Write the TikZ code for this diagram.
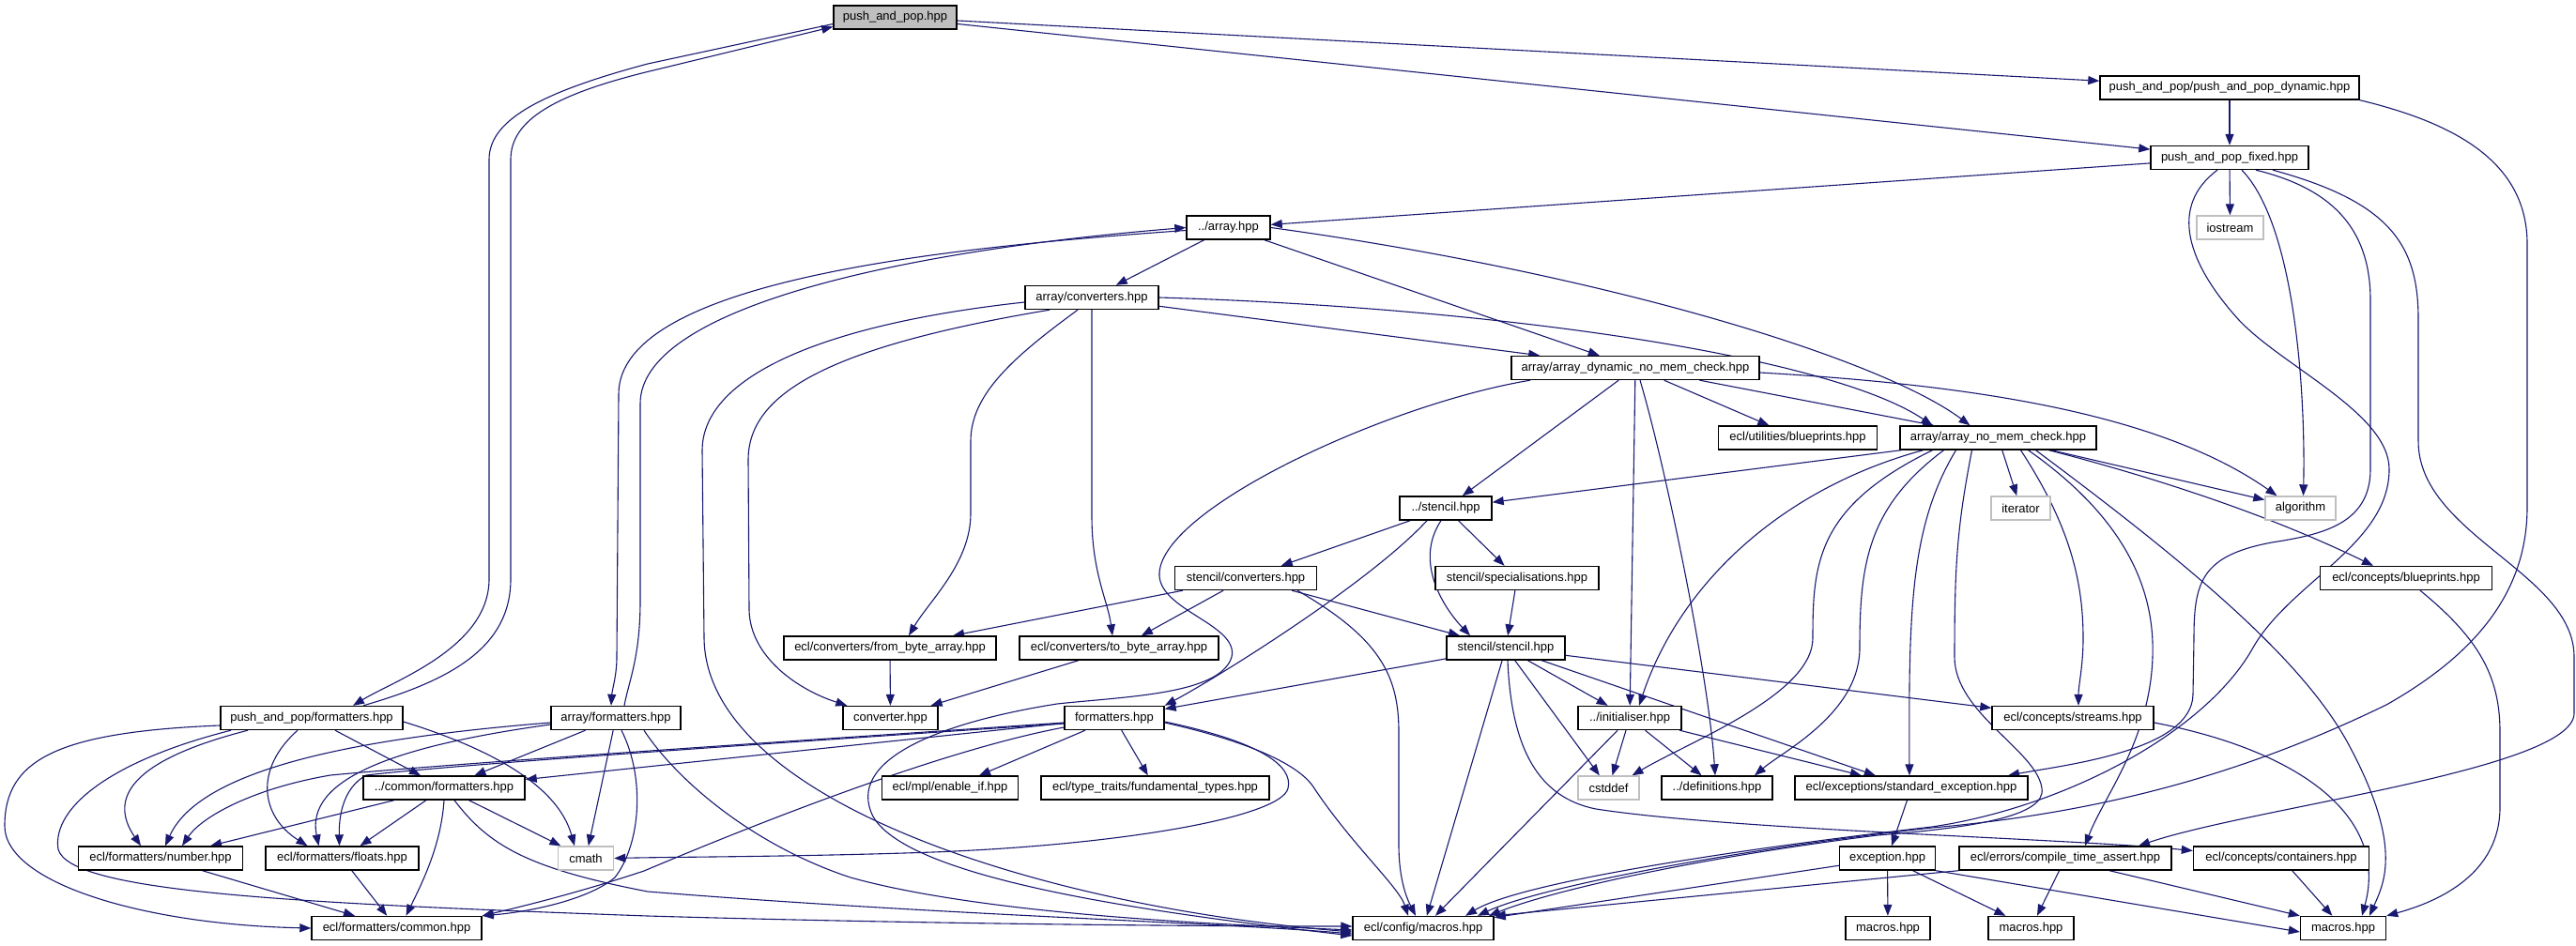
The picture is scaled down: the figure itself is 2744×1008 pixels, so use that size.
\documentclass[tikz,border=0pt]{standalone}
\usepackage{fontspec}
\setmainfont{Liberation Sans}
\usetikzlibrary{arrows.meta}
\definecolor{edgec}{HTML}{191970}
\definecolor{boxgray}{HTML}{BFBFBF}
\pgfdeclarelayer{bg}
\pgfsetlayers{bg,main}
\begin{document}
\begin{tikzpicture}[x=1pt,y=-1pt,
  box/.style={draw=black, line width=1.4pt, fill=white, rectangle, minimum height=25pt, inner sep=0pt, font=\fontsize{13}{15}\selectfont},
  sys/.style={box, draw=boxgray},
  rootbox/.style={box, fill=boxgray},
  e/.style={draw=edgec, line width=1.1pt, -{Triangle[length=12pt,width=9pt]}}]
\useasboundingbox (0,0) rectangle (2744,1008);
% nodes
\node[rootbox, minimum width=131] (root) at (953.5,18.5) {push\_and\_pop.hpp};
\node[box, minimum width=276] (dyn) at (2375,93.5) {push\_and\_pop/push\_and\_pop\_dynamic.hpp};
\node[box, minimum width=168] (fixed) at (2375,168) {push\_and\_pop\_fixed.hpp};
\node[box, minimum width=89] (array) at (1308.5,242.5) {../array.hpp};
\node[sys, minimum width=71] (iostream) at (2375.5,242.5) {iostream};
\node[box, minimum width=142] (conv) at (1163,317) {array/converters.hpp};
\node[box, minimum width=264] (adyn) at (1742,392) {array/array\_dynamic\_no\_mem\_check.hpp};
\node[box, minimum width=169] (ublue) at (1915,466.5) {ecl/utilities/blueprints.hpp};
\node[box, minimum width=209] (anomem) at (2128.5,466.5) {array/array\_no\_mem\_check.hpp};
\node[box, minimum width=98] (stencil) at (1540,541.5) {../stencil.hpp};
\node[sys, minimum width=63] (iterator) at (2152.5,541.5) {iterator};
\node[sys, minimum width=75] (algorithm) at (2450.5,541.5) {algorithm};
\node[box, minimum width=151] (sconv) at (1327,616) {stencil/converters.hpp};
\node[box, minimum width=174] (sspec) at (1616,616) {stencil/specialisations.hpp};
\node[box, minimum width=183] (cblue) at (2563,616) {ecl/concepts/blueprints.hpp};
\node[box, minimum width=226] (fromb) at (948,690.5) {ecl/converters/from\_byte\_array.hpp};
\node[box, minimum width=212] (tob) at (1192,690.5) {ecl/converters/to\_byte\_array.hpp};
\node[box, minimum width=126] (sstencil) at (1604,690.5) {stencil/stencil.hpp};
\node[box, minimum width=194] (ppfmt) at (332,765) {push\_and\_pop/formatters.hpp};
\node[box, minimum width=138] (afmt) at (656,765) {array/formatters.hpp};
\node[box, minimum width=101] (converter) at (948.5,765) {converter.hpp};
\node[box, minimum width=106] (fmt) at (1187,765) {formatters.hpp};
\node[box, minimum width=110] (init) at (1736,765) {../initialiser.hpp};
\node[box, minimum width=172] (streams) at (2208,765) {ecl/concepts/streams.hpp};
\node[box, minimum width=172] (cfmt) at (473,839.5) {../common/formatters.hpp};
\node[box, minimum width=145] (enableif) at (1012,839.5) {ecl/mpl/enable\_if.hpp};
\node[box, minimum width=243] (fund) at (1230.5,839.5) {ecl/type\_traits/fundamental\_types.hpp};
\node[sys, minimum width=65] (cstddef) at (1713.5,839.5) {cstddef};
\node[box, minimum width=118] (defs) at (1829,839.5) {../definitions.hpp};
\node[box, minimum width=248] (stdexc) at (2036,839.5) {ecl/exceptions/standard\_exception.hpp};
\node[box, minimum width=175] (number) at (171,914.5) {ecl/formatters/number.hpp};
\node[box, minimum width=163] (floats) at (364.5,914.5) {ecl/formatters/floats.hpp};
\node[sys, minimum width=59] (cmath) at (624,914.5) {cmath};
\node[box, minimum width=102] (exc) at (2010.5,914.5) {exception.hpp};
\node[box, minimum width=226] (cta) at (2200,914.5) {ecl/errors/compile\_time\_assert.hpp};
\node[box, minimum width=187] (cont) at (2430,914.5) {ecl/concepts/containers.hpp};
\node[box, minimum width=181] (common) at (422.5,989) {ecl/formatters/common.hpp};
\node[box, minimum width=150] (cmacros) at (1516,989) {ecl/config/macros.hpp};
\node[box, minimum width=90] (m1) at (2011,989) {macros.hpp};
\node[box, minimum width=91] (m2) at (2163.5,989) {macros.hpp};
\node[box, minimum width=91] (m3) at (2496,989) {macros.hpp};
\begin{pgfonlayer}{bg}
\fill[white] (0,0) rectangle (2744,1008);
% root
\draw[e] (root) -- (dyn);
\draw[e] (root) -- (fixed);
\draw[e] ([yshift=-7pt]root.west) -- (690,68) .. controls (570,100) and (521,130) .. (521,170) -- (521,617) .. controls (521,690) and (420,725) .. ([xshift=44pt]ppfmt.north);
\draw[e] ([xshift=55pt]ppfmt.north) .. controls (480,725) and (544,690) .. (544,617) -- (544,170) .. controls (544,128) and (590,100) .. (700,74) -- ([yshift=-10pt]root.west);
% dyn
\draw[e] (dyn) -- (fixed);
\draw[e] (dyn.south east) .. controls (2610,130) and (2692,170) .. (2692,260) -- (2692,540) .. controls (2692,620) and (2650,690) .. (2542,751) .. controls (2400,820) and (2250,865) .. (2058,882) .. controls (1850,905) and (1640,945) .. ([xshift=58pt]cmacros.north);
% fixed
\draw[e] (fixed) -- (array);
\draw[e] (fixed) -- (iostream);
\draw[e] ([xshift=13pt]fixed.south) .. controls (2445,240) and (2456,420) .. ([xshift=3pt]algorithm.north);
\draw[e] ([xshift=28pt]fixed.south) .. controls (2480,200) and (2525,240) .. (2525,320) -- (2525,500) .. controls (2525,560) and (2470,570) .. (2420,578) .. controls (2345,592) and (2337,620) .. (2337,680) -- (2336,740) .. controls (2335,800) and (2200,815) .. ([xshift=103pt]stdexc.north);
\draw[e] ([xshift=46pt]fixed.south) .. controls (2545,215) and (2576,260) .. (2576,340) -- (2576,470) .. controls (2576,570) and (2742,610) .. (2742,700) -- (2742,760) .. controls (2742,820) and (2400,860) .. ([xshift=78pt]cta.north);
\draw[e] ([xshift=-13pt]fixed.south) .. controls (2310,220) and (2330,280) .. (2384,340) .. controls (2430,390) and (2545,440) .. (2545,500) .. controls (2545,580) and (2440,620) .. (2400,690) .. controls (2350,780) and (2200,860) .. (2058,881) .. controls (1850,905) and (1620,940) .. ([xshift=45pt]cmacros.north);
% array
\draw[e] (array) -- (conv);
\draw[e] (array) -- (adyn);
\draw[e] (array.east) .. controls (1700,290) and (2000,380) .. ([xshift=-30pt]anomem.north);
\draw[e] ([yshift=-3pt]array.west) .. controls (1000,264) and (659,300) .. (659,420) -- (657,700) .. controls (657,720) and (652,735) .. ([xshift=-5pt]afmt.north);
\draw[e] ([xshift=9pt]afmt.north) .. controls (670,725) and (682,700) .. (682,640) -- (682,430) .. controls (682,330) and (950,268) .. (array.west);
% conv
\draw[e] (conv) -- (adyn);
\draw[e] (conv.east) .. controls (1600,328) and (1950,380) .. ([xshift=-70pt]anomem.north);
\draw[e] ([yshift=-5pt]conv.west) .. controls (880,345) and (748,400) .. (748,480) -- (750,680) .. controls (752,850) and (1100,965) .. ([yshift=-4pt]cmacros.west);
\draw[e] ([xshift=-45pt]conv.south) .. controls (880,370) and (797,420) .. (797,490) -- (798,650) .. controls (799,700) and (850,735) .. ([xshift=5pt]converter.north west);
\draw[e] ([xshift=-15pt]conv.south) .. controls (1080,380) and (1034,420) .. (1034,470) -- (1034,547) .. controls (1034,600) and (990,640) .. ([xshift=20pt]fromb.north);
\draw[e] (conv.south) -- (1163,550) .. controls (1163,610) and (1180,640) .. ([xshift=-7pt]tob.north);
% adyn
\draw[e] ([yshift=-5pt]adyn.east) .. controls (2100,410) and (2300,440) .. ([xshift=-25pt]algorithm.north);
\draw[e] ([xshift=-112pt]adyn.south) .. controls (1480,430) and (1240,540) .. (1235,610) .. controls (1232,650) and (1320,665) .. (1312,700) .. controls (1300,740) and (1200,742) .. (1126,750) .. controls (1000,770) and (900,810) .. (930,870) .. controls (970,940) and (1250,975) .. ([yshift=-8pt]cmacros.west);
\draw[e] (adyn) -- (stencil);
\draw[e] (adyn) -- (init);
\draw[e] ([xshift=5pt]adyn.south) .. controls (1775,500) and (1820,720) .. ([xshift=-2pt]defs.north);
\draw[e] (adyn) -- (ublue);
\draw[e] (adyn) -- (anomem);
% anomem
\draw[e] (anomem) -- (stencil);
\draw[e] ([xshift=-80pt]anomem.south) .. controls (1900,520) and (1790,620) .. ([xshift=10pt]init.north);
\draw[e] ([xshift=-70pt]anomem.south) .. controls (1935,540) and (1931,600) .. (1931,680) .. controls (1931,740) and (1800,790) .. ([xshift=25pt]cstddef.north);
\draw[e] ([xshift=-58pt]anomem.south) .. controls (1990,540) and (1981,600) .. (1981,690) .. controls (1981,760) and (1900,800) .. ([xshift=40pt]defs.north);
\draw[e] ([xshift=-45pt]anomem.south) .. controls (2035,560) and (2033,650) .. ([xshift=-2pt]stdexc.north);
\draw[e] ([xshift=-28pt]anomem.south) .. controls (2085,560) and (2082,600) .. (2082,700) .. controls (2082,760) and (2170,800) .. (2175,840) .. controls (2180,870) and (2100,882) .. (2000,890) .. controls (1800,915) and (1650,950) .. ([xshift=70pt]cmacros.north);
\draw[e] (anomem) -- (iterator);
\draw[e] ([xshift=24pt]anomem.south) .. controls (2205,560) and (2219,620) .. (2219,680) .. controls (2219,710) and (2214,730) .. ([xshift=6pt]streams.north);
\draw[e] ([xshift=32pt]anomem.south) .. controls (2275,560) and (2295,640) .. (2293,700) .. controls (2290,790) and (2240,850) .. ([xshift=21pt]cta.north);
\draw[e] ([xshift=40pt]anomem.south) .. controls (2330,600) and (2450,700) .. (2500,790) .. controls (2560,900) and (2540,940) .. ([xshift=28pt]m3.north);
\draw[e] (anomem) -- (algorithm);
\draw[e] ([xshift=54pt]anomem.south) .. controls (2300,510) and (2420,550) .. ([xshift=-35pt]cblue.north);
% stencil
\draw[e] (stencil) -- (sconv);
\draw[e] ([xshift=-20pt]stencil.south) .. controls (1460,620) and (1300,720) .. (fmt.north east);
\draw[e] ([xshift=-5pt]stencil.south) .. controls (1505,600) and (1540,650) .. ([xshift=-38pt]sstencil.north);
\draw[e] (stencil) -- (sspec);
\draw[e] (sspec) -- (sstencil);
% sconv
\draw[e] (sconv) -- (fromb);
\draw[e] (sconv) -- (tob);
\draw[e] (sconv) -- (sstencil);
\draw[e] ([xshift=55pt]sconv.south) .. controls (1470,680) and (1490,720) .. (1490,780) -- (1490,900) .. controls (1490,940) and (1500,960) .. ([xshift=-8pt]cmacros.north);
% sstencil
\draw[e] (sstencil) -- (fmt);
\draw[e] (sstencil) -- (cmacros);
\draw[e] ([xshift=2pt]sstencil.south) .. controls (1610,800) and (1640,850) .. (1700,862) .. controls (1850,885) and (2200,893) .. ([yshift=8pt]cont.west);
\draw[e] (sstencil) -- (cstddef);
\draw[e] (sstencil) -- (init);
\draw[e] (sstencil) -- (stdexc);
\draw[e] (sstencil) -- (streams);
% init
\draw[e] (init) -- (cmacros);
\draw[e] (init) -- (cstddef);
\draw[e] (init) -- (defs);
\draw[e] (init) -- (stdexc);
% exceptions
\draw[e] (stdexc) -- (exc);
\draw[e] (exc) -- (cmacros);
\draw[e] (exc) -- (m1);
\draw[e] (exc) -- (m2);
\draw[e] (exc.south east) -- ([yshift=-4pt]m3.west);
\draw[e] (cta.south west) -- (cmacros.north east);
\draw[e] (cta) -- (m2);
\draw[e] ([xshift=47pt]cta.south) -- (m3.north west);
% concepts
\draw[e] ([yshift=-5pt]streams.east) .. controls (2450,800) and (2545,870) .. ([xshift=20pt]m3.north);
\draw[e] (cont) -- (m3);
\draw[e] ([xshift=15pt]cblue.south) .. controls (2640,680) and (2663,720) .. (2663,780) -- (2663,860) .. controls (2663,930) and (2600,960) .. (m3.north east);
% formatters.hpp
\draw[e] (fmt) -- (enableif);
\draw[e] (fmt) -- (fund);
\draw[e] ([yshift=-5pt]fmt.west) .. controls (900,786) and (500,812) .. (352,826) .. controls (270,840) and (215,870) .. ([xshift=23pt]number.north);
\draw[e] ([yshift=-6pt]fmt.west) .. controls (900,787) and (500,813) .. (390,826) .. controls (365,840) and (361,870) .. ([xshift=-3pt]floats.north);
\draw[e] (fmt) -- (cfmt);
\draw[e] ([yshift=-10pt]fmt.west) .. controls (1000,800) and (800,880) .. (686,928) .. controls (620,950) and (560,965) .. (common.north east);
\draw[e] ([yshift=-5pt]fmt.east) .. controls (1330,790) and (1385,815) .. (1400,840) .. controls (1440,900) and (1490,945) .. ([xshift=-16pt]cmacros.north);
\draw[e] ([yshift=-4pt]fmt.east) .. controls (1340,790) and (1378,815) .. (1372,840) .. controls (1365,870) and (1200,900) .. (994,908) .. controls (850,913) and (720,913) .. (cmath.east);
% push_and_pop/formatters.hpp
\draw[e] ([yshift=-8pt]ppfmt.west) .. controls (60,780) and (5,810) .. (5,880) .. controls (5,940) and (150,985) .. (common.west);
\draw[e] ([xshift=-86pt]ppfmt.south) .. controls (120,810) and (55,860) .. (62,905) .. controls (75,950) and (300,962) .. (690,976) .. controls (1000,985) and (1300,987) .. ([yshift=2pt]cmacros.west);
\draw[e] ([xshift=-68pt]ppfmt.south) .. controls (140,810) and (115,850) .. ([xshift=-21pt]number.north);
\draw[e] ([xshift=-15pt]ppfmt.south) .. controls (270,820) and (278,870) .. ([xshift=-37pt]floats.north);
\draw[e] (ppfmt) -- (cfmt);
\draw[e] ([yshift=-4pt]ppfmt.east) .. controls (530,800) and (595,840) .. ([xshift=-12pt]cmath.north);
% array/formatters.hpp
\draw[e] ([yshift=-5pt]afmt.west) .. controls (400,785) and (215,815) .. ([xshift=5pt]number.north);
\draw[e] ([yshift=-7pt]afmt.west) .. controls (420,795) and (325,830) .. ([xshift=-25pt]floats.north);
\draw[e] (afmt) -- (cfmt);
\draw[e] (afmt) -- (cmath);
\draw[e] ([xshift=6pt]afmt.south) .. controls (688,830) and (682,900) .. (655,935) .. controls (625,960) and (560,972) .. (common.north east);
\draw[e] ([xshift=30pt]afmt.south) .. controls (720,830) and (800,900) .. (906,935) .. controls (1050,975) and (1300,985) .. ([yshift=-2pt]cmacros.west);
% common/formatters
\draw[e] (cfmt) -- (number);
\draw[e] (cfmt) -- (floats);
\draw[e] (cfmt.south) .. controls (470,900) and (450,940) .. ([xshift=10pt]common.north);
\draw[e] (cfmt) -- (cmath);
\draw[e] ([xshift=11pt]cfmt.south) .. controls (520,900) and (560,925) .. (690,950) .. controls (1000,975) and (1300,983) .. ([yshift=-6pt]cmacros.west);
% formatters leaves
\draw[e] (number) -- (common);
\draw[e] (floats) -- (common);
% converters
\draw[e] (fromb) -- (converter);
\draw[e] (tob) -- (converter);
\end{pgfonlayer}
\end{tikzpicture}
\end{document}
